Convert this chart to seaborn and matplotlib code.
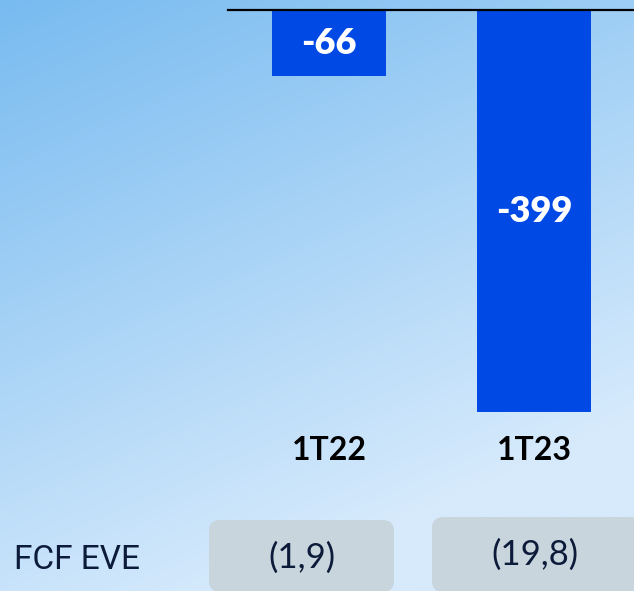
import numpy as np
import matplotlib
matplotlib.use("Agg")
import matplotlib.pyplot as plt
from matplotlib.patches import FancyBboxPatch
import seaborn as sns

# dados do gráfico
periodos = ["1T22", "1T23"]
valores = [-66, -399]
fcf_rotulo = "FCF EVE"
fcf_valores = ["(1,9)", "(19,8)"]

sns.set_theme(style="white")
plt.rcParams["font.family"] = ["Lato", "DejaVu Sans"]

W, H = 634, 591
fig = plt.figure(figsize=(W / 100, H / 100), dpi=100)

# fundo em degradê (céu)
bg = fig.add_axes([0, 0, 1, 1], zorder=-1)
yy, xx = np.mgrid[0:1:300j, 0:1:320j]
t = np.clip(0.85 * yy + 0.4 * xx, 0, 1)[..., None]
c0 = np.array([120, 187, 240]) / 255
c1 = np.array([214, 234, 252]) / 255
bg.imshow(c0 + (c1 - c0) * t, aspect="auto", extent=[0, 1, 0, 1], origin="upper")
bg.set_axis_off()

# eixo das barras
ax = fig.add_axes([228 / W, 1 - 412 / H, 1 - 228 / W, 402 / H])
ax.patch.set_alpha(0)
sns.barplot(x=periodos, y=valores, ax=ax, color="#0049e5", saturation=1,
            width=0.556, linewidth=0, edgecolor="none")
ax.set_xlim(-0.4927, 1.4878)
ax.set_ylim(min(valores), 0)
ax.bar_label(ax.containers[0], fmt="%d", label_type="center", color="white",
             fontsize=26, fontweight="heavy")
for s in ["left", "right", "bottom"]:
    ax.spines[s].set_visible(False)
ax.spines["top"].set_color("black")
ax.spines["top"].set_linewidth(1.6)
ax.set_yticks([])
ax.tick_params(axis="x", length=0, pad=17)
for lbl in ax.get_xticklabels():
    lbl.set_fontsize(23)
    lbl.set_fontweight("bold")
    lbl.set_color("black")
ax.set_xlabel("")
ax.set_ylabel("")

# linha do FCF
fig.text(14 / W, 1 - 560 / H, fcf_rotulo, ha="left", va="center", fontsize=24,
         color="#0d1b3a", family=["Roboto", "DejaVu Sans"])
caixas = [(209, 520, 185), (432, 517, 210)]
for (x0, y0, w), txt in zip(caixas, fcf_valores):
    box = FancyBboxPatch((x0 / W, 1 - 592 / H), w / W, (592 - y0) / H,
                         boxstyle="round,pad=0,rounding_size=0.018",
                         transform=fig.transFigure, facecolor="#c9d5dc",
                         edgecolor="none", zorder=1)
    fig.patches.append(box)
fig.text(302 / W, 1 - 558 / H, fcf_valores[0], ha="center", va="center",
         fontsize=25, color="#0d1b3a", zorder=2)
fig.text(535 / W, 1 - 555 / H, fcf_valores[1], ha="center", va="center",
         fontsize=25, color="#0d1b3a", zorder=2)

fig.savefig("out.png", dpi=100)
